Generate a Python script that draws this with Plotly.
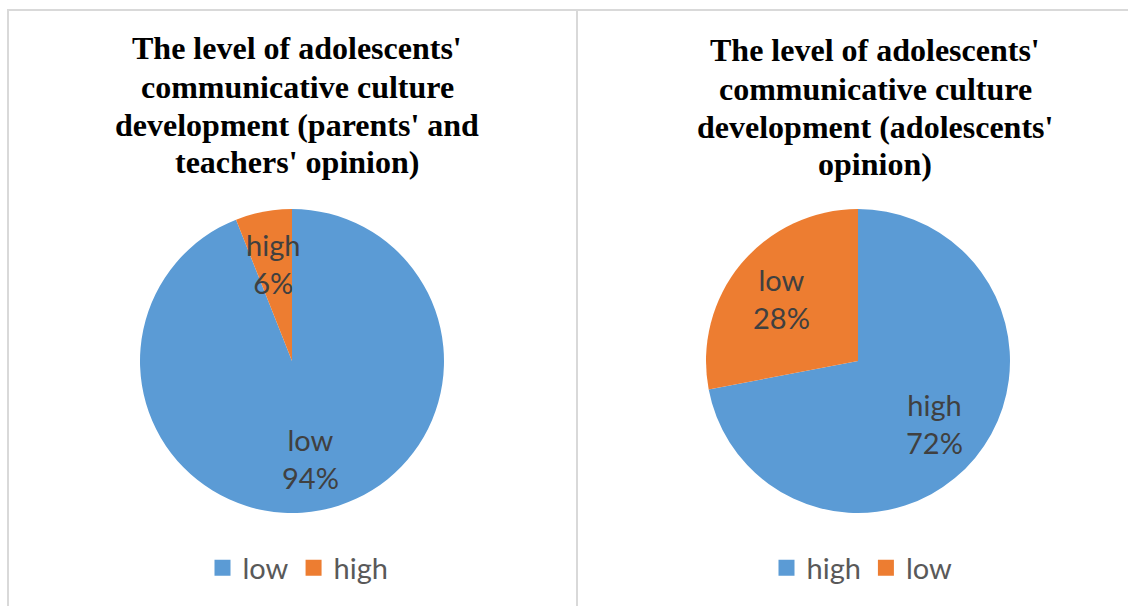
import math
import plotly.graph_objects as go

left_labels = ["low", "high"]
left_values = [94, 6]
right_labels = ["high", "low"]
right_values = [72, 28]
left_title_lines = ["The level of adolescents'", "communicative culture",
                    "development (parents' and", "teachers' opinion)"]
right_title_lines = ["The level of adolescents'", "communicative culture",
                     "development (adolescents'", "opinion)"]

BLUE = "#5B9BD5"
ORANGE = "#ED7D31"
W, H = 1128, 606
R = 152
LABEL_FONT = dict(family="Lato, Liberation Sans, sans-serif", size=29, color="#404040")


def px_x(x):
    return x / W


def px_y(y):
    return 1 - y / H


fig = go.Figure()

pies = [
    (left_labels, left_values, 292, "legend"),
    (right_labels, right_values, 858, "legend2"),
]
for labels, values, cx, leg in pies:
    cy = 361
    colors = [BLUE, ORANGE]
    fig.add_trace(go.Pie(
        labels=labels, values=values, sort=False, direction="clockwise", rotation=0,
        marker=dict(colors=colors),
        textinfo="none", showlegend=False,
        domain=dict(x=[px_x(cx - R), px_x(cx + R)], y=[px_y(cy + R), px_y(cy - R)]),
        hoverinfo="label+percent",
    ))
    # legend entries (square swatches) for this pie
    for lab, col in zip(labels, colors):
        fig.add_trace(go.Scatter(
            x=[None], y=[None], mode="markers", name=lab, legend=leg,
            marker=dict(symbol="square", size=17, color=col), showlegend=True, hoverinfo="skip",
        ))
    total = sum(values)
    cum = 0
    for lab, val in zip(labels, values):
        mid = (cum + val / 2) / total * 2 * math.pi
        cum += val
        r = 0.65 * R
        tx = cx + r * math.sin(mid)
        ty = cy - r * math.cos(mid)
        fig.add_annotation(text=f"{lab}<br>{round(val / total * 100)}%", x=px_x(tx), y=px_y(ty),
                           xref="paper", yref="paper", showarrow=False, font=LABEL_FONT,
                           align="center", xanchor="center", yanchor="middle")

title_font = dict(family="Liberation Serif, Times New Roman, serif", size=32, color="#000000")
for lines, cx, ys in [(left_title_lines, 297, [48, 87, 125, 162]),
                      (right_title_lines, 875, [50, 89, 127, 164])]:
    for line, y in zip(lines, ys):
        fig.add_annotation(text="<b>" + line + "</b>", x=px_x(cx), y=px_y(y), xref="paper", yref="paper",
                           showarrow=False, font=title_font, align="center", xanchor="center",
                           yanchor="middle")

line_style = dict(color="#d9d9d9", width=2)
fig.add_shape(type="line", xref="paper", yref="paper", x0=px_x(7), x1=1, y0=px_y(10), y1=px_y(10), line=line_style)
fig.add_shape(type="line", xref="paper", yref="paper", x0=px_x(8), x1=px_x(8), y0=px_y(10), y1=0, line=line_style)
fig.add_shape(type="line", xref="paper", yref="paper", x0=px_x(577), x1=px_x(577), y0=px_y(10), y1=0, line=line_style)

legend_font = dict(family="Lato, Liberation Sans, sans-serif", size=29, color="#595959")
fig.update_layout(
    width=W, height=H, margin=dict(l=0, r=0, t=0, b=0),
    paper_bgcolor="white", plot_bgcolor="white",
    xaxis=dict(visible=False), yaxis=dict(visible=False),
    legend=dict(orientation="h", x=px_x(298), y=px_y(568), xanchor="center", yanchor="middle",
                font=legend_font, bgcolor="rgba(0,0,0,0)", itemwidth=30),
    legend2=dict(orientation="h", x=px_x(862), y=px_y(568), xanchor="center", yanchor="middle",
                 font=legend_font, bgcolor="rgba(0,0,0,0)", itemwidth=30),
)

fig.write_html("out.html", post_script="document.body.style.margin='0';",
               config={"displayModeBar": False})
